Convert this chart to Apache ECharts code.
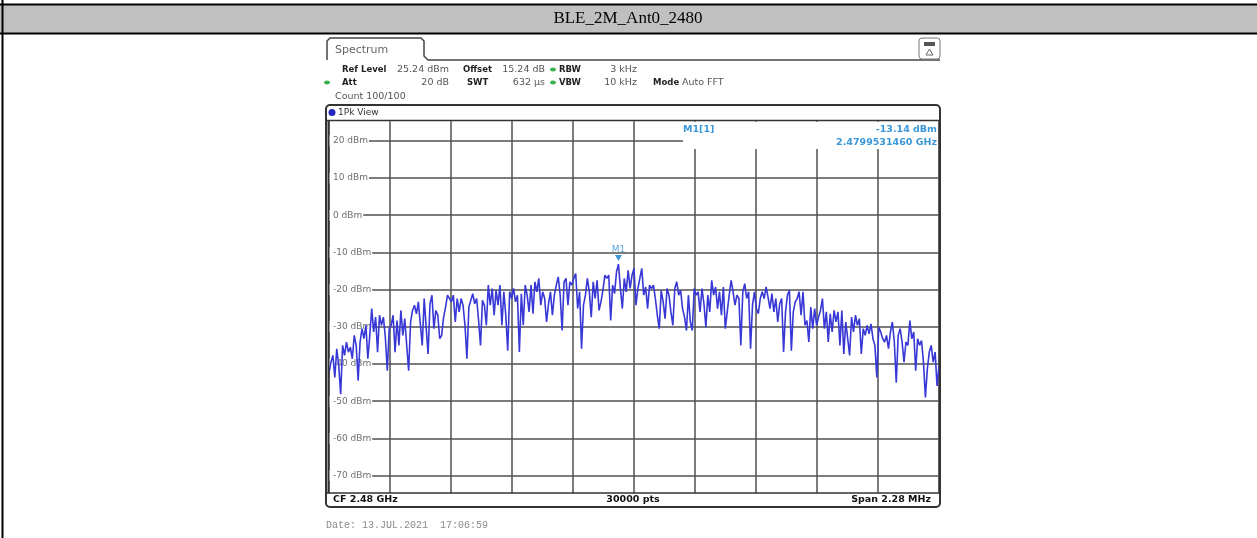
<!DOCTYPE html>
<html><head><meta charset="utf-8">
<script src="https://cdn.jsdelivr.net/npm/echarts@6/dist/echarts.min.js"></script>
<style>html,body{margin:0;padding:0;background:#fff}#c{width:1257px;height:538px}</style>
</head><body><div id="c"></div>
<script>
// ---- data ----
const tableTitle = 'BLE_2M_Ant0_2480';
const spanMHz = 2.28;
const refLevel = 25.24;
const bottomLevel = -74.76;
const yTickValues = [20, 10, 0, -10, -20, -30, -40, -50, -60, -70];
const traceLeft = [
-42.3,-39.5,-37.7,-43.6,-35.9,-40.4,-48.1,-35.0,-37.7,-34.1,
-36.8,-35.5,-38.6,-32.3,-35.0,-44.5,-34.1,-30.5,-33.2,-29.6,
-38.6,-32.3,-25.1,-31.4,-27.4,-36.8,-26.9,-29.6,-27.4,-32.8,
-41.8,-30.5,-29.6,-26.9,-36.8,-28.3,-35.0,-25.6,-32.3,-27.8,
-35.0,-41.8,-28.7,-25.6,-24.2,-26.5,-23.3,-29.2,-35.0,-22.4,
-30.1,-37.3,-23.8,-21.5,-30.5,-25.6,-26.9,-33.2,-32.3,-27.4,
-24.7,-21.5,-21.1,-23.3,-21.5,-28.7,-22.4,-26.0,-22.4,-24.2,
-29.6,-38.6,-24.7,-22.9,-21.1,-23.8,-22.4,-28.3,-35.0,-22.9,
-24.2,-29.6,-18.8,-24.2,-19.7,-26.9,-20.2,-24.2,-18.8,-29.6,
-20.6,-26.9,-36.4,-20.6,-22.4,-19.7,-23.3,-21.5,-36.8,-21.1,
-29.6,-18.8,-21.5];
const traceMid = [
-26.0,-18.8,-26.5,-17.9,-20.6,-17.0,-24.2,-20.6,-22.4,-28.7,
-23.8,-20.6,-26.9,-21.5,-18.8,-16.6,-21.5,-31.0,-17.9,-17.0,
-24.2,-17.9,-18.8,-17.0,-15.7,-25.1,-20.6,-35.9,-24.2,-21.5,
-17.0,-20.6,-27.4,-17.9,-22.4,-17.5,-25.6,-23.3,-20.2,-16.1,
-17.0,-16.1,-28.3,-18.8,-21.1,-15.2,-13.14,-19.7,-25.1,-17.0,
-20.6,-14.8,-19.7,-16.1,-14.3,-24.2,-19.7,-17.0,-14.3,-21.5,
-19.3,-25.1,-18.8,-19.7,-18.8,-22.4,-26.9,-30.5,-20.2,-23.3,
-27.8,-19.7,-21.5,-26.0,-29.6,-19.7,-17.9,-21.5,-20.2,-25.1,
-27.4,-31.0,-21.5,-28.7,-31.0,-19.7,-21.5,-20.6,-26.0,-19.7,
-23.8,-30.1,-21.5,-26.0,-17.5,-21.5,-19.3,-25.1,-20.6,-26.9,
-19.3,-30.5,-26.0,-21.5,-17.5,-20.6,-24.2];
const traceRight = [
-21.5,-22.4,-35.0,-20.6,-18.4,-22.4,-20.6,-35.9,-24.2,-20.6,
-25.1,-26.5,-22.4,-20.6,-22.4,-19.3,-22.0,-25.1,-21.1,-26.0,
-22.4,-28.7,-23.8,-22.4,-36.8,-26.0,-21.5,-20.2,-36.4,-26.0,
-23.3,-22.4,-20.6,-26.9,-20.6,-29.6,-28.3,-34.1,-24.7,-30.5,
-25.1,-29.6,-27.4,-25.6,-22.4,-30.5,-26.0,-34.1,-26.5,-31.4,
-25.6,-28.7,-26.0,-35.0,-25.6,-37.3,-28.7,-33.2,-37.7,-27.4,
-31.4,-26.9,-29.6,-27.8,-37.3,-30.5,-32.3,-29.6,-31.9,-29.2,
-33.2,-35.0,-43.6,-30.1,-31.4,-33.2,-34.1,-32.3,-35.9,-31.4,
-28.7,-34.1,-45.0,-32.3,-30.5,-34.1,-39.5,-34.1,-35.0,-28.3,
-33.2,-31.4,-41.8,-33.2,-35.0,-33.7,-39.5,-49.0,-41.3,-36.8,
-35.0,-39.5,-36.8,-45.9,-40.4];
const markerLabel = 'M1[1]';
const markerLevel = '-13.14 dBm';
const markerFreq = '2.4799531460 GHz';
const headerRow1 = ['Ref Level', '25.24 dBm', 'Offset', '15.24 dB', 'RBW', '3 kHz'];
const headerRow2 = ['Att', '20 dB', 'SWT', '632 µs', 'VBW', '10 kHz', 'Mode', 'Auto FFT'];
const countText = 'Count 100/100';
const viewText = '1Pk View';
const footerLeft = 'CF 2.48 GHz';
const footerMid = '30000 pts';
const footerRight = 'Span 2.28 MHz';
const dateText = 'Date: 13.JUL.2021  17:06:59';

// ---- build ----
const trace = traceLeft.concat(traceMid, traceRight);
const n = trace.length;
const seriesData = trace.map((v, i) => [i * spanMHz / (n - 1), v]);

const SANS = 'DejaVu Sans';
// [x, align, bold]
const row1Layout = [[342, 'left', 1], [449, 'right', 0], [463, 'left', 1], [545, 'right', 0], [559, 'left', 1], [637, 'right', 0]];
const row2Layout = [[342, 'left', 1], [449, 'right', 0], [467, 'left', 1], [545, 'right', 0], [559, 'left', 1], [637, 'right', 0], [653, 'left', 1], [682, 'left', 0]];
function headerTexts(row, lay, y) {
  return row.map((t, i) => ({
    type: 'text', z: 20, x: lay[i][0], y: y,
    style: { text: t, font: (lay[i][2] ? 'bold 8.5px ' : '9.5px ') + SANS, fill: lay[i][2] ? '#222' : '#555', textAlign: lay[i][1], textVerticalAlign: 'middle' }
  }));
}

const chart = echarts.init(document.getElementById('c'), null, { renderer: 'canvas' });
chart.setOption({
  backgroundColor: '#fff',
  animation: false,
  grid: { left: 329, top: 121.3, width: 610, height: 372 },
  xAxis: {
    type: 'value', min: 0, max: spanMHz, interval: spanMHz / 10,
    axisLine: { show: false }, axisTick: { show: false }, axisLabel: { show: false },
    splitLine: { show: true, lineStyle: { color: '#505050', width: 1.5 } }
  },
  yAxis: {
    type: 'value', min: bottomLevel, max: refLevel,
    axisLine: { show: false },
    axisTick: { show: false, customValues: yTickValues },
    axisLabel: {
      show: true, inside: true, margin: 0, customValues: yTickValues,
      formatter: '{value} dBm', color: '#6e6e6e', fontFamily: SANS, fontSize: 9,
      backgroundColor: '#fff', padding: [1, 1, 1, 4]
    },
    splitLine: { show: true, lineStyle: { color: '#505050', width: 1.5 } }
  },
  series: [{
    type: 'line', data: seriesData, showSymbol: false, symbol: 'none',
    lineStyle: { color: '#3838d6', width: 1.6 }, z: 5,
    markPoint: {
      symbol: 'triangle', symbolRotate: 180, symbolSize: [7, 6], symbolOffset: [0, -6],
      itemStyle: { color: '#3a98d8' },
      label: { show: true, position: 'top', distance: 1, formatter: 'M1', color: '#5aa8e0', fontSize: 9, fontFamily: SANS },
      data: [{ type: 'max' }]
    }
  }],
  graphic: [
    // table header
    { type: 'rect', z: 1, shape: { x: 0, y: 5, width: 1257, height: 28 }, style: { fill: '#c0c0c0' } },
    { type: 'line', z: 2, shape: { x1: 0, y1: 4.5, x2: 1257, y2: 4.5 }, style: { stroke: '#000', lineWidth: 2 } },
    { type: 'line', z: 2, shape: { x1: 0, y1: 33.5, x2: 1257, y2: 33.5 }, style: { stroke: '#000', lineWidth: 2 } },
    { type: 'line', z: 2, shape: { x1: 2.5, y1: 0, x2: 2.5, y2: 538 }, style: { stroke: '#000', lineWidth: 2 } },
    { type: 'text', z: 3, x: 628, y: 19, style: { text: tableTitle, font: '17px "Liberation Serif"', fill: '#000', textAlign: 'center', textVerticalAlign: 'middle' } },
    // spectrum tab
    { type: 'polyline', z: 2, shape: { points: [[327, 60], [327, 41], [330, 38], [421, 38], [424, 41], [424, 56], [428, 60], [940, 60]] }, style: { stroke: '#444', lineWidth: 1.5, fill: null } },
    { type: 'text', z: 3, x: 335, y: 50, style: { text: 'Spectrum', font: '11px ' + SANS, fill: '#666', textVerticalAlign: 'middle' } },
    { type: 'rect', z: 2, shape: { x: 919, y: 38, width: 21, height: 21, r: 3 }, style: { fill: '#fff', stroke: '#777', lineWidth: 1 } },
    { type: 'rect', z: 3, shape: { x: 924, y: 42, width: 11, height: 4 }, style: { fill: '#555' } },
    { type: 'polygon', z: 3, shape: { points: [[929.5, 49], [926, 55], [933, 55]] }, style: { fill: null, stroke: '#666', lineWidth: 1 } },
    // header
    ...headerTexts(headerRow1, row1Layout, 69.5),
    ...headerTexts(headerRow2, row2Layout, 82.5),
    { type: 'text', z: 20, x: 335, y: 96.5, style: { text: countText, font: '9.5px ' + SANS, fill: '#555', textVerticalAlign: 'middle' } },
    { type: 'ellipse', z: 20, shape: { cx: 553, cy: 69.5, rx: 3, ry: 2 }, style: { fill: '#3cb04a' } },
    { type: 'ellipse', z: 20, shape: { cx: 553, cy: 82.5, rx: 3, ry: 2 }, style: { fill: '#3cb04a' } },
    { type: 'ellipse', z: 20, shape: { cx: 327, cy: 82.5, rx: 3, ry: 2 }, style: { fill: '#3cb04a' } },
    // main frame
    { type: 'rect', z: 20, shape: { x: 326, y: 105, width: 614, height: 402, r: 4 }, style: { fill: null, stroke: '#333', lineWidth: 2 } },
    { type: 'line', z: 20, shape: { x1: 327, y1: 120.5, x2: 939, y2: 120.5 }, style: { stroke: '#333', lineWidth: 1.5 } },
    { type: 'line', z: 20, shape: { x1: 327, y1: 493, x2: 939, y2: 493 }, style: { stroke: '#333', lineWidth: 1.5 } },
    { type: 'line', z: 20, shape: { x1: 328.5, y1: 120, x2: 328.5, y2: 493 }, style: { stroke: '#333', lineWidth: 2 } },
    { type: 'circle', z: 20, shape: { cx: 332, cy: 112.5, r: 3.5 }, style: { fill: '#2424c0' } },
    { type: 'text', z: 20, x: 338, y: 112.5, style: { text: viewText, font: '9px ' + SANS, fill: '#333', textVerticalAlign: 'middle' } },
    // marker info
    { type: 'rect', z: 10, shape: { x: 683, y: 122, width: 255, height: 27 }, style: { fill: '#fff' } },
    { type: 'text', z: 20, x: 683, y: 130, style: { text: markerLabel, font: 'bold 9.5px ' + SANS, fill: '#3a98d8', textVerticalAlign: 'middle' } },
    { type: 'text', z: 20, x: 937, y: 130, style: { text: markerLevel, font: 'bold 9.5px ' + SANS, fill: '#3a98d8', textAlign: 'right', textVerticalAlign: 'middle' } },
    { type: 'text', z: 20, x: 937, y: 143, style: { text: markerFreq, font: 'bold 9.5px ' + SANS, fill: '#3a98d8', textAlign: 'right', textVerticalAlign: 'middle' } },
    // footer
    { type: 'text', z: 20, x: 333, y: 499.5, style: { text: footerLeft, font: 'bold 9.5px ' + SANS, fill: '#111', textVerticalAlign: 'middle' } },
    { type: 'text', z: 20, x: 633, y: 499.5, style: { text: footerMid, font: 'bold 9.5px ' + SANS, fill: '#111', textAlign: 'center', textVerticalAlign: 'middle' } },
    { type: 'text', z: 20, x: 931, y: 499.5, style: { text: footerRight, font: 'bold 9.5px ' + SANS, fill: '#111', textAlign: 'right', textVerticalAlign: 'middle' } },
    { type: 'text', z: 20, x: 326, y: 525.5, style: { text: dateText, font: '10px "Liberation Mono"', fill: '#8a8a8a', textVerticalAlign: 'middle' } }
  ]
});
</script></body></html>
